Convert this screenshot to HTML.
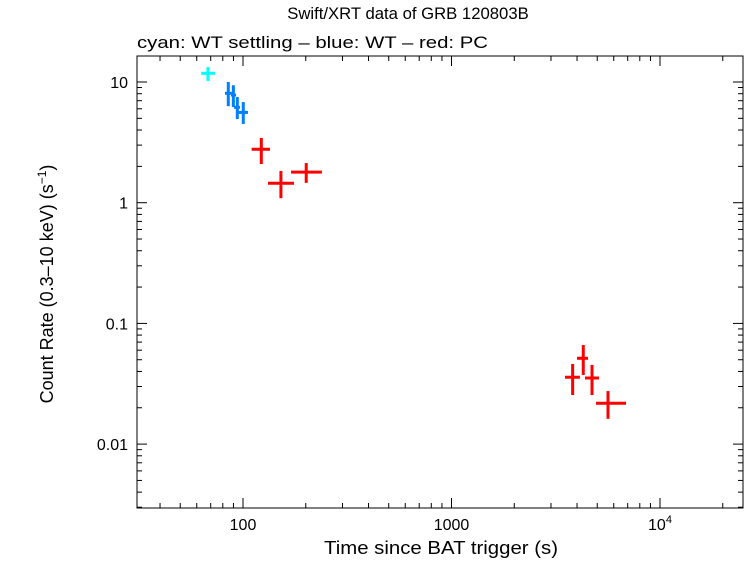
<!DOCTYPE html>
<html><head><meta charset="utf-8"><style>
body{margin:0;background:#fff;width:746px;height:558px;overflow:hidden}
svg text{font-family:"Liberation Sans",sans-serif;fill:#000}
</style></head><body>
<svg id="chart" width="746" height="558" viewBox="0 0 746 558">
<text x="408" y="19" font-size="16.7" text-anchor="middle">Swift/XRT data of GRB 120803B</text>
<text x="137" y="48" font-size="17" textLength="351" lengthAdjust="spacingAndGlyphs">cyan: WT settling – blue: WT – red: PC</text>
<rect x="137" y="56" width="606" height="452" fill="none" stroke="#000" stroke-width="1"/>
<g id="ticks"></g>
<g id="marks"></g>
<text x="441" y="554" font-size="18" textLength="234" lengthAdjust="spacingAndGlyphs" text-anchor="middle">Time since BAT trigger (s)</text>
<text transform="translate(53,284) rotate(-90)" font-size="18" text-anchor="middle">Count Rate (0.3–10 keV) (s<tspan font-size="12" dy="-7">−1</tspan><tspan dy="7">)</tspan></text>
</svg>
<script>
const xTickVals=[100,1000,10000];
const xTickLabels=["100","1000","10"];
const yTickVals=[10,1,0.1,0.01];
const yTickLabels=["10","1","0.1","0.01"];
const series=["cyan","blue","blue","blue","blue","red","red","red","red","red","red","red"];
const times=[67.9,85.0,89.9,93.9,100.3,122.4,152,201,3811,4285,4720,5632];
const tLo=[63,82,87.6,90.5,92.6,110,131.8,170,3500,3998,4368,4933];
const tHi=[73.4,88.5,92.6,96.7,105.7,134.8,175.7,239,4130,4518,5099,6873];
const rates=[11.8,8.06,7.8,6.17,5.6,2.77,1.45,1.79,0.0358,0.0514,0.0353,0.0218];
const rLo=[10.2,6.3,6.2,4.93,4.49,2.09,1.09,1.46,0.0255,0.0374,0.0255,0.0162];
const rHi=[13.3,10,9.4,7.5,6.82,3.44,1.83,2.13,0.0461,0.0662,0.0453,0.0275];
const colors={cyan:"#00ffff",blue:"#0080ff",red:"#ff0000"};
const widths={cyan:3,blue:3,red:3};
const L=137,R=743,T=56,B=508;
const xs=v=>243+(Math.log10(v)-2)*208.5;
const ys=v=>82-(Math.log10(v)-1)*120.7;
const NS="http://www.w3.org/2000/svg";
function mk(tag,attrs,parent){const e=document.createElementNS(NS,tag);for(const k in attrs)e.setAttribute(k,attrs[k]);parent.appendChild(e);return e;}
const tg=document.getElementById('ticks');
for(let d=1;d<=4;d++){for(let m=1;m<10;m++){const v=m*Math.pow(10,d);const x=xs(v);if(x<L||x>R)continue;const len=m==1?10:5;
const t1=mk('line',{x1:x,x2:x,y1:B,y2:B-len,stroke:'#000'},tg);


const t2=mk('line',{x1:x,x2:x,y1:T,y2:T+len,stroke:'#000'},tg);

}}
for(let d=-3;d<=1;d++){for(let m=1;m<10;m++){const v=m*Math.pow(10,d);const y=ys(v);if(y<T||y>B)continue;const len=m==1?10:5;
const t1=mk('line',{x1:L,x2:L+len,y1:y,y2:y,stroke:'#000'},tg);


const t2=mk('line',{x1:R,x2:R-len,y1:y,y2:y,stroke:'#000'},tg);

}}
xTickVals.forEach((v,i)=>{const t=mk('text',{x:xs(v),y:530,'font-size':16,'text-anchor':'middle'},tg);t.textContent=xTickLabels[i];
if(v==10000){const s=mk('tspan',{'font-size':11,dy:-7},t);s.textContent='4';}

});
yTickVals.forEach((v,i)=>{const t=mk('text',{x:128,y:ys(v)+6,'font-size':16,'text-anchor':'end'},tg);t.textContent=yTickLabels[i];

});
const mg=document.getElementById('marks');
times.forEach((t,i)=>{const c=colors[series[i]],w=widths[series[i]];
const g=mk('g',{stroke:c,'stroke-width':w},mg);


mk('line',{x1:xs(tLo[i]),x2:xs(tHi[i]),y1:ys(rates[i]),y2:ys(rates[i])},g);
mk('line',{x1:xs(t),x2:xs(t),y1:ys(rLo[i]),y2:ys(rHi[i])},g);});
</script>
</body></html>
